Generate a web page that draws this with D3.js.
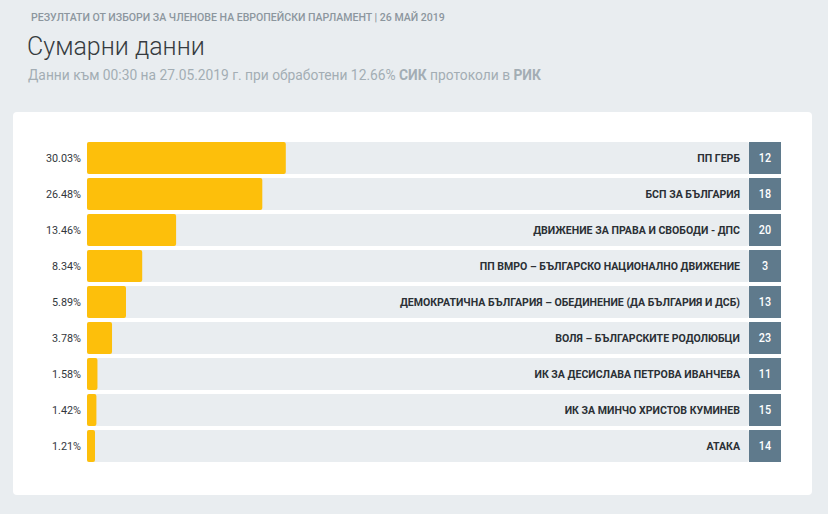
<!DOCTYPE html>
<html>
<head>
<meta charset="utf-8">
<script src="https://cdn.jsdelivr.net/npm/d3@7"></script>
<style>
  html, body { margin: 0; padding: 0; background: #e9edf0; }
  svg { display: block; }
  text { font-family: Roboto, "Noto Sans", sans-serif; }
</style>
</head>
<body>
<svg id="chart" width="828" height="514"></svg>
<script>
const parties = [
  "ПП ГЕРБ",
  "БСП ЗА БЪЛГАРИЯ",
  "ДВИЖЕНИЕ ЗА ПРАВА И СВОБОДИ - ДПС",
  "ПП ВМРО – БЪЛГАРСКО НАЦИОНАЛНО ДВИЖЕНИЕ",
  "ДЕМОКРАТИЧНА БЪЛГАРИЯ – ОБЕДИНЕНИЕ (ДА БЪЛГАРИЯ И ДСБ)",
  "ВОЛЯ – БЪЛГАРСКИТЕ РОДОЛЮБЦИ",
  "ИК ЗА ДЕСИСЛАВА ПЕТРОВА ИВАНЧЕВА",
  "ИК ЗА МИНЧО ХРИСТОВ КУМИНЕВ",
  "АТАКА"
];
const percents = [30.03, 26.48, 13.46, 8.34, 5.89, 3.78, 1.58, 1.42, 1.21];
const ballotNumbers = [12, 18, 20, 3, 13, 23, 11, 15, 14];

const headerSmall = "РЕЗУЛТАТИ ОТ ИЗБОРИ ЗА ЧЛЕНОВЕ НА ЕВРОПЕЙСКИ ПАРЛАМЕНТ | 26 МАЙ 2019";
const headerTitle = "Сумарни данни";
const headerSubParts = [
  ["Данни към 00:30 на 27.05.2019 г. при обработени 12.66% ", 400],
  ["СИК", 700],
  [" протоколи в ", 400],
  ["РИК", 700]
];

const svg = d3.select("#chart");

function condText(x, y, txt, size, weight, color, sx) {
  return svg.append("text")
    .attr("transform", `translate(${x},${y}) scale(${sx},1)`)
    .attr("font-size", size)
    .attr("font-weight", weight)
    .attr("fill", color)
    .text(txt);
}
condText(31, 21, headerSmall, 11, 500, "#8c969e", 0.96);
condText(27, 55, headerTitle, 25, 300, "#363b40", 1.0);
const sub = condText(28, 80, "", 15, 400, "#a3adb4", 0.92);
sub.selectAll("tspan").data(headerSubParts).join("tspan")
  .attr("font-weight", d => d[1])
  .text(d => d[0]);

// panel
svg.append("rect")
  .attr("x", 13).attr("y", 112).attr("width", 799).attr("height", 383)
  .attr("rx", 4).attr("fill", "#ffffff");

const trackX0 = 87, trackX1 = 749, boxW = 32;
const x = d3.scaleLinear().domain([0, 100]).range([trackX0, trackX1]);
const y = d3.scaleBand().domain(parties).range([140, 464]).paddingInner(4 / 36).paddingOuter(2 / 36);

const rows = svg.append("g").selectAll("g").data(parties).join("g")
  .attr("transform", d => `translate(0,${y(d)})`);
const bh = y.bandwidth();

rows.append("rect")
  .attr("x", x(0)).attr("width", x(100) - x(0)).attr("height", bh)
  .attr("rx", 2).attr("fill", "#e9edf0");

rows.append("rect")
  .attr("x", x(0)).attr("width", (d, i) => x(percents[i]) - x(0)).attr("height", bh)
  .attr("rx", 2).attr("fill", "#fdbf0b");

rows.append("rect")
  .attr("x", x(100)).attr("width", boxW).attr("height", bh)
  .attr("fill", "#5f7a8c");

rows.append("text")
  .attr("transform", `translate(${x(0) - 6},${bh / 2 + 4}) scale(0.94,1)`)
  .attr("text-anchor", "end")
  .attr("font-size", 11.5)
  .attr("fill", "#33383d")
  .text((d, i) => percents[i].toFixed(2) + "%");

rows.append("text")
  .attr("transform", `translate(${x(100) - 9},${bh / 2 + 4}) scale(0.92,1)`)
  .attr("text-anchor", "end")
  .attr("font-size", 11.5)
  .attr("font-weight", 700)
  .attr("fill", "#2b3035")
  .text(d => d);

rows.append("text")
  .attr("transform", `translate(${x(100) + boxW / 2},${bh / 2 + 4}) scale(0.9,1)`)
  .attr("text-anchor", "middle")
  .attr("font-size", 12)
  .attr("font-weight", 500)
  .attr("fill", "#ffffff")
  .text((d, i) => ballotNumbers[i]);
</script>
</body>
</html>
